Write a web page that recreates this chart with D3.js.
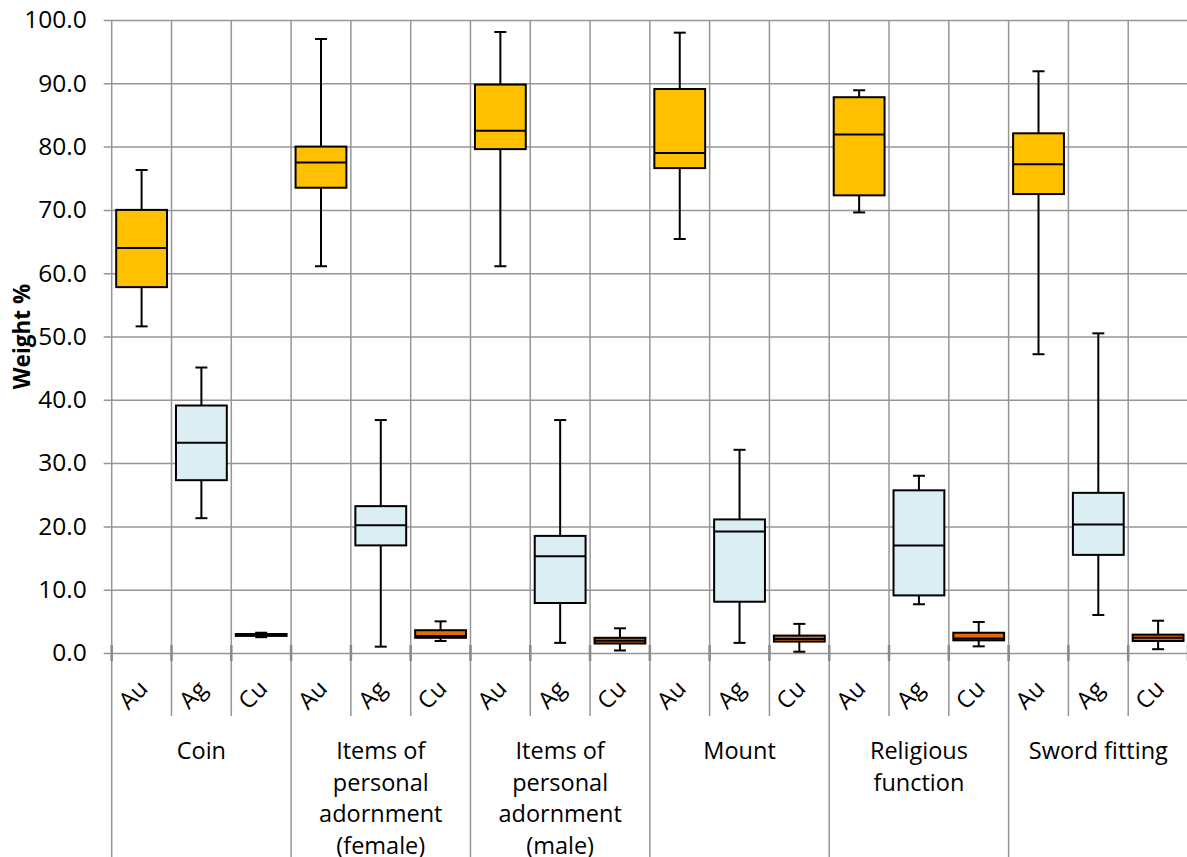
<!DOCTYPE html>
<html>
<head>
<meta charset="utf-8">
<script src="https://cdn.jsdelivr.net/npm/d3@7"></script>
<style>
  html, body { margin: 0; padding: 0; background: #fff; overflow: hidden; }
  svg { display: block; font-family: "Open Sans", "Noto Sans", sans-serif; }
</style>
</head>
<body>
<svg id="chart" width="1187" height="857"></svg>
<script>
// Object categories and the metals measured in each
const groups = ["Coin", "Items of personal adornment (female)", "Items of personal adornment (male)", "Mount", "Religious function", "Sword fitting"];
const groupLabelLines = [
  ["Coin"],
  ["Items of", "personal", "adornment", "(female)"],
  ["Items of", "personal", "adornment", "(male)"],
  ["Mount"],
  ["Religious", "function"],
  ["Sword fitting"]
];
const metals = ["Au", "Ag", "Cu"];

// Box statistics per group: [whisker low, Q1, median, Q3, whisker high] (weight %)
const auStats = [
  [51.6, 57.8, 64.0, 70.0, 76.3],
  [61.1, 73.5, 77.5, 80.0, 97.0],
  [61.1, 79.6, 82.5, 89.8, 98.1],
  [65.4, 76.6, 79.0, 89.1, 98.0],
  [69.6, 72.3, 81.9, 87.8, 88.9],
  [47.2, 72.5, 77.2, 82.1, 91.9]
];
const agStats = [
  [21.3, 27.3, 33.2, 39.1, 45.1],
  [1.0, 17.0, 20.2, 23.2, 36.8],
  [1.6, 7.9, 15.3, 18.5, 36.8],
  [1.6, 8.1, 19.2, 21.1, 32.1],
  [7.7, 9.1, 17.0, 25.7, 28.0],
  [6.0, 15.5, 20.3, 25.3, 50.5]
];
const cuStats = [
  [2.5, 2.7, 2.85, 3.0, 3.2],
  [1.9, 2.4, 2.7, 3.6, 5.0],
  [0.4, 1.5, 1.95, 2.4, 3.9],
  [0.2, 1.8, 2.2, 2.75, 4.6],
  [1.05, 2.0, 2.3, 3.2, 4.9],
  [0.6, 1.9, 2.4, 2.9, 5.1]
];
const yTicks = [0, 10, 20, 30, 40, 50, 60, 70, 80, 90, 100];

const metalFill = { Au: "#FFC000", Ag: "#DAEEF3", Cu: "#E36C09" };
const statsByMetal = { Au: auStats, Ag: agStats, Cu: cuStats };

const svg = d3.select("#chart");
const plotLeft = 111.7, plotRight = 1188, plotTop = 20, plotBottom = 653;
const gridColor = "#969696";

// One band per (group, metal) column
const columns = [];
groups.forEach((g, gi) => metals.forEach(m => columns.push({ key: gi + "|" + m, gi, metal: m, s: statsByMetal[m][gi] })));

const x = d3.scaleBand().domain(columns.map(c => c.key)).range([plotLeft, plotRight]).padding(0);
const xGroup = d3.scaleBand().domain(groups).range([plotLeft, plotRight]).padding(0);
const y = d3.scaleLinear().domain([0, 100]).range([plotBottom, plotTop]);
const bw = x.bandwidth();

// Horizontal gridlines with tick labels (y axis)
const yAxis = d3.axisLeft(y).tickValues(yTicks).tickFormat(d3.format(".1f")).tickSize(0);
const yG = svg.append("g").attr("transform", `translate(${plotLeft - 8},0)`).call(yAxis);
yG.select(".domain").remove();
yG.selectAll(".tick line").attr("stroke", gridColor).attr("stroke-width", 1.5)
  .attr("x1", 0).attr("x2", plotRight - plotLeft + 8);
yG.selectAll(".tick text").attr("fill", "#000").attr("font-size", 24.5)
  .attr("font-family", "'Open Sans', sans-serif").attr("x", -17);

// Vertical gridlines at every column boundary
const boundaries = d3.range(columns.length + 1).map(i => plotLeft + i * bw);
svg.append("g").selectAll("line").data(boundaries).join("line")
  .attr("x1", d => d).attr("x2", d => d)
  .attr("y1", plotTop).attr("y2", (d, i) => i % 3 === 0 ? 857 : 716)
  .attr("stroke", gridColor).attr("stroke-width", 1.5);

// Cross tick marks on the category axis
svg.append("g").selectAll("line").data(boundaries).join("line")
  .attr("x1", d => d).attr("x2", d => d)
  .attr("y1", plotBottom - 8).attr("y2", plotBottom + 8)
  .attr("stroke", "#8a8a8a").attr("stroke-width", 2.5);

// Box plots
const boxW = bw * 0.85, capW = 12;
const boxes = svg.append("g").selectAll("g").data(columns).join("g")
  .attr("transform", d => `translate(${x(d.key) + bw / 2},0)`);

boxes.append("line").attr("class", "whisker")
  .attr("x1", 0).attr("x2", 0)
  .attr("y1", d => y(d.s[0])).attr("y2", d => y(d.s[4]))
  .attr("stroke", "#000").attr("stroke-width", 2);
boxes.append("line").attr("x1", -capW / 2).attr("x2", capW / 2)
  .attr("y1", d => y(d.s[0])).attr("y2", d => y(d.s[0]))
  .attr("stroke", "#000").attr("stroke-width", 2);
boxes.append("line").attr("x1", -capW / 2).attr("x2", capW / 2)
  .attr("y1", d => y(d.s[4])).attr("y2", d => y(d.s[4]))
  .attr("stroke", "#000").attr("stroke-width", 2);
boxes.append("rect")
  .attr("x", -boxW / 2).attr("width", boxW)
  .attr("y", d => y(d.s[3])).attr("height", d => y(d.s[1]) - y(d.s[3]))
  .attr("fill", d => metalFill[d.metal]).attr("stroke", "#000").attr("stroke-width", 2);
boxes.append("line").attr("x1", -boxW / 2).attr("x2", boxW / 2)
  .attr("y1", d => y(d.s[2])).attr("y2", d => y(d.s[2]))
  .attr("stroke", "#000").attr("stroke-width", 2);

// Metal labels, rotated
svg.append("g").selectAll("text").data(columns).join("text")
  .attr("transform", d => `translate(${x(d.key) + bw / 2 - 9},${694}) rotate(-45)`)
  .attr("text-anchor", "middle").attr("dominant-baseline", "central")
  .attr("font-size", 23.5).attr("fill", "#000")
  .text(d => d.metal);

// Group labels
const gl = svg.append("g").selectAll("text").data(groups).join("text")
  .attr("text-anchor", "middle").attr("font-size", 23.5).attr("fill", "#000")
  .attr("x", d => xGroup(d) + xGroup.bandwidth() / 2).attr("y", 759);
gl.selectAll("tspan").data((d, i) => groupLabelLines[i]).join("tspan")
  .attr("x", function () { return d3.select(this.parentNode).attr("x"); })
  .attr("dy", (d, i) => i === 0 ? 0 : 31.5)
  .text(d => d);

// Axis title
svg.append("text")
  .attr("transform", `translate(21,${(plotTop + plotBottom) / 2}) rotate(-90)`)
  .attr("text-anchor", "middle").attr("dominant-baseline", "central")
  .attr("font-size", 22.5).attr("font-weight", "bold").attr("fill", "#000")
  .text("Weight %");
</script>
</body>
</html>
